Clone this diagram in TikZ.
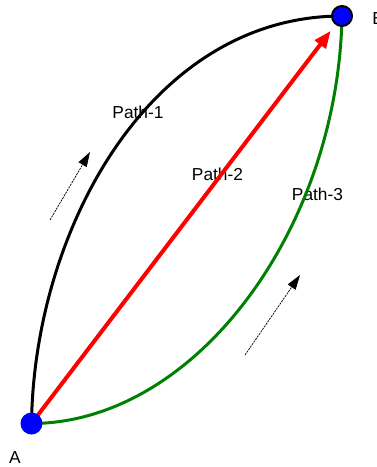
\documentclass[tikz,border=0pt]{standalone}
\usepackage{fontspec}
\setmainfont{Liberation Sans}
\usetikzlibrary{arrows.meta}
\usetikzlibrary{backgrounds}
\definecolor{pathgreen}{RGB}{0,128,0}
\tikzset{
dot/.style = {circle, fill=blue, minimum size=#1,
              inner sep=0pt, outer sep=0pt},
dot/.default = 16.5pt, % size of the circle diameter
lab/.style = {inner sep=0pt, font=\fontsize{13}{15}\selectfont},
hint/.style = {line width=0.55pt, dash pattern=on 1.6pt off 0.7pt,
               -{Triangle[length=11pt,width=7pt]}}
}
\newcommand{\lab}[3]{\node[lab, anchor=base] (#1) at (#2) {#3};}
\newcommand{\hint}[2]{\draw[hint] (#1) -- (#2);}

\begin{document}
\begin{tikzpicture}[x=0.75pt,y=-0.75pt]
    \useasboundingbox (0,0) rectangle (377,467);

    \node[dot] (A) at (31.5,423.5) {};
    \node[dot=15pt, draw=black, line width=1.5pt] (B) at (342,16) {};
    \lab{labA}{15,463}{A};
    \node[lab, anchor=base west] (labB) at (372,25) {B};

    \begin{scope}[on background layer]
    \lab{p1}{138,118}{Path-1};
    \lab{p2}{217.5,180.5}{Path-2};
    \lab{p3}{317.5,200}{Path-3};

    \draw[line width=2.25pt] (A.center) .. controls (34,230) and (150,16) .. (B.center);
    \draw[line width=2.25pt, pathgreen] (A.center) .. controls (195,423) and (338,230) .. (B.center);
    \draw[line width=3pt, red, shorten >=6.5pt, -{Triangle[length=13pt,width=10pt]}] (A.center) -- (B);
    \end{scope}

    \coordinate (h1) at (50,220);
    \coordinate (h1e) at (90,152);
    \coordinate (h2) at (245,355);
    \coordinate (h2e) at (300,275);
    \hint{h1}{h1e};
    \hint{h2}{h2e};
\end{tikzpicture}
\end{document}
